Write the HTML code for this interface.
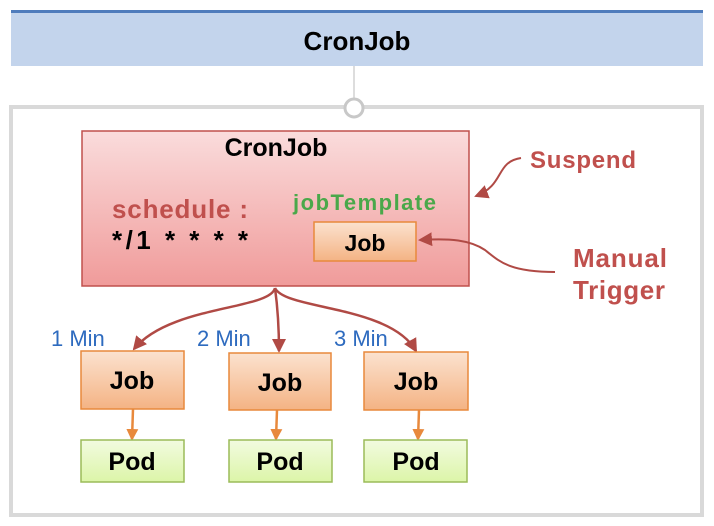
<!DOCTYPE html>
<html><head><meta charset="utf-8"><style>
html,body{margin:0;padding:0;background:#fff;}
svg{display:block;}
text{font-family:"Liberation Sans",sans-serif;font-weight:bold;}
</style></head><body>
<svg width="714" height="526" viewBox="0 0 714 526" xmlns="http://www.w3.org/2000/svg">
<defs>
<linearGradient id="red" x1="0" y1="0" x2="0" y2="1"><stop offset="0" stop-color="#fadcdc"/><stop offset="1" stop-color="#f09b9a"/></linearGradient>
<linearGradient id="org" x1="0" y1="0" x2="0" y2="1"><stop offset="0" stop-color="#fbe2cf"/><stop offset="1" stop-color="#f4b384"/></linearGradient>
<linearGradient id="grn" x1="0" y1="0" x2="0" y2="1"><stop offset="0" stop-color="#f2fbe0"/><stop offset="1" stop-color="#dcf5a8"/></linearGradient>
<marker id="ar" markerWidth="14" markerHeight="14" refX="12" refY="7" orient="auto" markerUnits="userSpaceOnUse"><path d="M0,0 L14,7 L0,14 z" fill="#b04a45"/></marker>
<marker id="ao" markerWidth="12" markerHeight="12" refX="10" refY="6" orient="auto" markerUnits="userSpaceOnUse"><path d="M0,0 L12,6 L0,12 z" fill="#e8893c"/></marker>
<marker id="arb" markerWidth="14" markerHeight="14" refX="12" refY="7" orient="auto" markerUnits="userSpaceOnUse"><path d="M0,0 L14,7 L0,14 z" fill="#b04a45"/></marker>
</defs>
<rect x="11" y="11" width="692" height="55" fill="#c3d4ec"/>
<rect x="11" y="10" width="692" height="3" fill="#4f7cbc"/>
<text x="357" y="50" font-size="26" text-anchor="middle" fill="#000">CronJob</text>
<line x1="354" y1="66" x2="354" y2="100" stroke="#bbb" stroke-width="1"/>
<rect x="11" y="107" width="691" height="408" fill="none" stroke="#d9d9d9" stroke-width="4"/>
<circle cx="354" cy="108" r="9" fill="#fff" stroke="#c8c8c8" stroke-width="3"/>
<rect x="82" y="131" width="387" height="155" fill="url(#red)" stroke="#c0504d" stroke-width="1.5"/>
<text x="276" y="156" font-size="25" text-anchor="middle">CronJob</text>
<text x="112" y="218" font-size="26" fill="#c0504d" textLength="136">schedule :</text>
<text x="112" y="249" font-size="26" fill="#000" textLength="136">*/1 * * * *</text>
<text x="293" y="210" font-size="22" fill="#4aa84a" textLength="143">jobTemplate</text>
<rect x="314" y="222" width="102" height="39" fill="url(#org)" stroke="#e8893c" stroke-width="1.5"/>
<text x="365" y="251" font-size="23" text-anchor="middle">Job</text>
<text x="530" y="168" font-size="24" fill="#c0504d" textLength="106">Suspend</text>
<text x="573" y="267" font-size="26" fill="#c0504d" textLength="94">Manual</text>
<text x="573" y="299" font-size="26" fill="#c0504d" textLength="92">Trigger</text>
<path d="M521,158 C495,162 505,185 476,196" fill="none" stroke="#b04a45" stroke-width="2" marker-end="url(#arb)"/>
<path d="M555,272 C510,272 500,262 485,250 C470,240 450,238 420,240" fill="none" stroke="#b04a45" stroke-width="2" marker-end="url(#arb)"/>
<path d="M275,288 C270,310 170,305 134,349" fill="none" stroke="#b04a45" stroke-width="2.5" marker-end="url(#ar)"/>
<path d="M275,288 C278,310 279,330 279,351" fill="none" stroke="#b04a45" stroke-width="2.5" marker-end="url(#ar)"/>
<path d="M275,288 C285,310 390,305 416,351" fill="none" stroke="#b04a45" stroke-width="2.5" marker-end="url(#ar)"/>
<text x="51" y="346" font-size="22" fill="#2e6bbf" style="font-weight:normal">1 Min</text>
<text x="197" y="346" font-size="22" fill="#2e6bbf" style="font-weight:normal">2 Min</text>
<text x="334" y="346" font-size="22" fill="#2e6bbf" style="font-weight:normal">3 Min</text>
<g>
<rect x="81" y="351" width="103" height="58" fill="url(#org)" stroke="#e8893c" stroke-width="1.5"/>
<text x="132" y="389" font-size="25" text-anchor="middle">Job</text>
<rect x="229" y="353" width="102" height="57" fill="url(#org)" stroke="#e8893c" stroke-width="1.5"/>
<text x="280" y="391" font-size="25" text-anchor="middle">Job</text>
<rect x="364" y="352" width="104" height="58" fill="url(#org)" stroke="#e8893c" stroke-width="1.5"/>
<text x="416" y="390" font-size="25" text-anchor="middle">Job</text>
<line x1="133" y1="409" x2="132" y2="439" stroke="#e8893c" stroke-width="2.5" marker-end="url(#ao)"/>
<line x1="277" y1="410" x2="276" y2="439" stroke="#e8893c" stroke-width="2.5" marker-end="url(#ao)"/>
<line x1="419" y1="410" x2="418" y2="439" stroke="#e8893c" stroke-width="2.5" marker-end="url(#ao)"/>
<rect x="81" y="440" width="103" height="42" fill="url(#grn)" stroke="#9bbb59" stroke-width="1.5"/>
<text x="132" y="470" font-size="25" text-anchor="middle">Pod</text>
<rect x="229" y="440" width="103" height="42" fill="url(#grn)" stroke="#9bbb59" stroke-width="1.5"/>
<text x="280" y="470" font-size="25" text-anchor="middle">Pod</text>
<rect x="364" y="440" width="103" height="42" fill="url(#grn)" stroke="#9bbb59" stroke-width="1.5"/>
<text x="416" y="470" font-size="25" text-anchor="middle">Pod</text>
</g>
</svg>
</body></html>
